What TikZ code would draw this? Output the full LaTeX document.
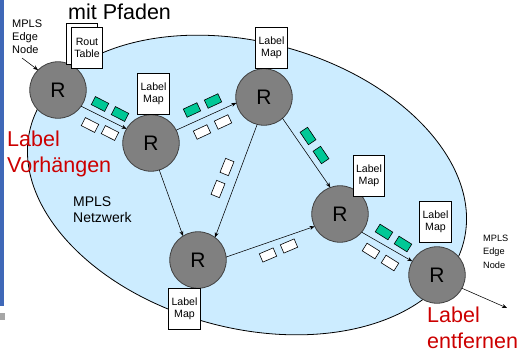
\documentclass[tikz,border=0pt]{standalone}
\usepackage{fontspec}
\setmainfont{Liberation Sans}
\usetikzlibrary{arrows.meta}

\definecolor{netblue}{HTML}{CCECFF}
\definecolor{pktgreen}{HTML}{00C896}
\definecolor{routergray}{HTML}{808080}
\definecolor{labelred}{HTML}{CC0000}
\definecolor{barblue}{HTML}{3F68B8}
\definecolor{bargray}{HTML}{A6A6A6}

\tikzset{
  router/.style={circle, draw=black!75, line width=0.8pt, fill=routergray,
    minimum size=56.5pt, inner sep=0pt, outer sep=0pt,
    font=\fontsize{21}{24}\selectfont},
  mapbox/.style={draw=black, line width=0.7pt, fill=white, align=center,
    minimum width=31.5pt, minimum height=41pt, inner sep=0pt,
    font=\fontsize{10.6}{12}\selectfont},
  conn/.style={draw=black, line width=0.55pt, -{Stealth[length=5pt,width=4pt]}},
  pkt/.style={draw=black, line width=0.6pt, minimum width=15pt,
    minimum height=9pt, inner sep=0pt},
  gpkt/.style={pkt, fill=pktgreen},
  wpkt/.style={pkt, fill=white},
  note/.style={align=left, inner sep=0pt, anchor=base west},
  redlabel/.style={note, text=labelred, font=\fontsize{21.5}{25.5}\selectfont}
}

\begin{document}
\begin{tikzpicture}[x=1pt, y=-1pt]
\useasboundingbox (0,0) rectangle (520,354);

% slide decoration at the left margin
\fill[barblue] (0,0) rectangle (4.3,306);
\fill[bargray] (0,313) rectangle (4.7,320);

% title fragment
\node[note, font=\fontsize{21.5}{25}\selectfont] (title) at (68,19) {mit Pfaden};

% the MPLS network cloud
\draw[black, line width=0.8pt, fill=netblue, rotate around={-15:(247,185)}]
  (247,185) ellipse [x radius=224pt, y radius=143pt];

% routers
\node[router] (R1) at (58,90) {R};
\node[router] (R2) at (151,143) {R};
\node[router] (R3) at (264,97) {R};
\node[router] (R4) at (340,214) {R};
\node[router] (R5) at (437,275) {R};
\node[router] (R6) at (198,260) {R};

% tables attached to the routers (the first one is stacked behind the routing table)
\node[mapbox] (rtback) at (82,43.5) {};
\node[mapbox] (rtfront) at (87,47.5) {Rout\\Table};
\node[mapbox] (LM2) at (153.5,93.5) {Label\\Map};
\node[mapbox] (LM3) at (271.5,47.5) {Label\\Map};
\node[mapbox] (LM4) at (369,175.5) {Label\\Map};
\node[mapbox] (LM5) at (435.5,222) {Label\\Map};
\node[mapbox] (LM6) at (184.5,309) {Label\\Map};

% label switched paths
\coordinate (edgein) at (22,58);
\coordinate (edgeout) at (507,308);
\draw[conn] (edgein) -- (R1.135);
\draw[conn] (R1.-35) -- (R2.150);
\draw[conn] (R2.27) -- (R3.192);
\draw[conn] (R3.-49) -- (R4.110);
\draw[conn] (R3.-104) -- (R6.53);
\draw[conn] (R2.-73) -- (R6.122);
\draw[conn] (R6.6) -- (R4.206);
\draw[conn] (R4.-40) -- (R5.151);
\draw[conn] (R5.-28) -- (edgeout);

% labelled packets (green) and plain packets (white)
\node[gpkt, rotate=-27] (p1) at (100,104) {};
\node[gpkt, rotate=-27] (p2) at (120,114) {};
\node[wpkt, rotate=-27] (p3) at (90,125) {};
\node[wpkt, rotate=-27] (p4) at (110,133) {};

\node[gpkt, rotate=25] (p5) at (192,110) {};
\node[gpkt, rotate=25] (p6) at (213,101) {};
\node[wpkt, rotate=25] (p7) at (202,132) {};
\node[wpkt, rotate=25] (p8) at (223,122) {};

\node[gpkt, rotate=-56] (p9) at (308,136) {};
\node[gpkt, rotate=-56] (p10) at (321,155) {};

\node[wpkt, rotate=68] (p11) at (227,167) {};
\node[wpkt, rotate=68] (p12) at (218,189) {};

\node[wpkt, rotate=23] (p13) at (268,255) {};
\node[wpkt, rotate=23] (p14) at (289,246) {};

\node[gpkt, rotate=-32] (p15) at (384,232) {};
\node[gpkt, rotate=-32] (p16) at (403,244) {};
\node[wpkt, rotate=-32] (p17) at (371,251) {};
\node[wpkt, rotate=-32] (p18) at (390,263) {};

% captions
\node[note, font=\fontsize{11}{13}\selectfont] (edgeL) at (12,53) {MPLS\\Edge\\Node};
\node[note, font=\fontsize{9.2}{13.3}\selectfont] (edgeR) at (483,268) {MPLS\\Edge\\Node};
\node[note, font=\fontsize{14}{16.5}\selectfont] (net) at (73,222.7) {MPLS\\Netzwerk};
\node[redlabel] (push) at (7,172) {Label\\Vorhängen};
\node[redlabel] (pop) at (427,348) {Label\\entfernen};
\end{tikzpicture}
\end{document}
